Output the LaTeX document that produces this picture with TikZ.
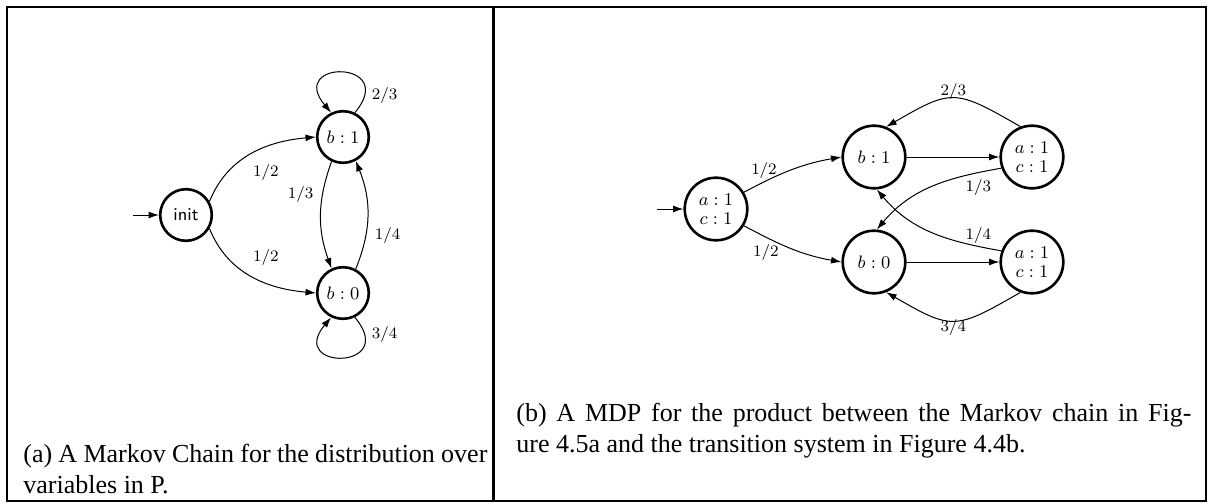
\documentclass[tikz,border=0pt]{standalone}
\usepackage{fontspec}
\newfontfamily\capfont{Liberation Serif}
\usetikzlibrary{arrows.meta,positioning}

\begin{document}
\begin{tikzpicture}[x=0.5pt, y=0.5pt, on grid,
        >={Latex[length=5.2pt,width=3.5pt]},
        font=\fontsize{8.5}{9}\selectfont,
        stateA/.style={draw, circle, line width=1.3pt, minimum size=25.8pt, inner sep=0pt, font=\fontsize{9}{9}\selectfont},
        stateB/.style={draw, circle, line width=1.3pt, minimum size=31.3pt, inner sep=0pt, align=center, font=\fontsize{9}{9.5}\selectfont},
        trans/.style={->, line width=0.5pt},
        frame/.style={line width=1pt},
        caption/.style={font=\capfont\fontsize{13}{15.5}\selectfont, inner sep=0pt, anchor=base west, align=justify}]
    \useasboundingbox (0,0) rectangle (1208,-503);
    \draw[frame] (7,-7) rectangle (1206,-501);
    \draw[frame, line width=1.5pt] (493,-7) -- (493,-501);

    % (a) Markov chain
    \node[stateA] (init) at (186,-215) {\sffamily init};
    \node[stateA, above right=39pt and 78.5pt of init] (b1) {$b:1$};
    \node[stateA, below=78pt of b1] (b0) {$b:0$};
    \coordinate (startA) at (133,-215);

    \draw[trans] (startA) -- (init);
    \draw[trans] (init.30) to[out=68, in=185] node[pos=0.45, below right] {$1/2$} (b1.west);
    \draw[trans] (init.-30) to[out=-68, in=175] node[pos=0.45, above right] {$1/2$} (b0.west);
    \draw[trans] (b1.-115) to[out=-110, in=110] node[pos=0.3, left=1pt] {$1/3$} (b0.115);
    \draw[trans] (b0.62) to[out=68, in=-68] node[pos=0.3, right=1pt] {$1/4$} (b1.-62);
    \draw[trans] (b1.64) to[out=50, in=130, looseness=7.5] node[pos=0.12, right] {$2/3$} (b1.116);
    \draw[trans] (b0.-64) to[out=-50, in=-130, looseness=7.5] node[pos=0.12, right] {$3/4$} (b0.-116);

    % (b) MDP
    \node[stateB] (mInit) at (716,-209) {$a:1$\\$c:1$};
    \node[stateB, above right=26pt and 79pt of mInit] (mB1) {$b:1$};
    \node[stateB, below=52.5pt of mB1] (mB0) {$b:0$};
    \node[stateB, right=79pt of mB1] (mTR) {$a:1$\\$c:1$};
    \node[stateB, right=79pt of mB0] (mBR) {$a:1$\\$c:1$};
    \coordinate (startB) at (657,-209);

    \draw[trans] (startB) -- (mInit);
    \draw[trans] (mInit.31) to[out=28, in=190] node[pos=0.2, above, inner sep=1.5pt] {$1/2$} (mB1.west);
    \draw[trans] (mInit.-31) to[out=-28, in=170] node[pos=0.22, below] {$1/2$} (mB0.west);
    \draw[trans] (mB1) -- (mTR);
    \draw[trans] (mB0) -- (mBR);
    \draw[trans] (mTR.111) to[out=150, in=30, looseness=1.45] node[above, inner sep=0pt, yshift=-0.8pt] {$2/3$} (mB1.68);
    \draw[trans] (mBR.-111) to[out=-150, in=-30, looseness=1.45] node[below, inner sep=0pt, yshift=0.8pt] {$3/4$} (mB0.-68);
    \draw[trans] (mTR.200) to[out=190, in=50] node[pos=0.15, below] {$1/3$} (mB0.85);
    \draw[trans] (mBR.160) to[out=170, in=-50] node[pos=0.15, above, inner sep=1pt] {$1/4$} (mB1.-85);

    % captions
    \node[caption, text width=232pt] (capA) at (23,-462)
        {\spaceskip=0.15em plus 0.15em minus 0.05em
         (a) A Markov Chain for the distribution over\linebreak
         \spaceskip=0pt variables in P.};
    \node[caption, text width=337.5pt] (capB) at (516,-421)
        {(b) A MDP for the product between the Markov chain in Fig-\linebreak ure 4.5a and the transition system in Figure 4.4b.};
\end{tikzpicture}
\end{document}
